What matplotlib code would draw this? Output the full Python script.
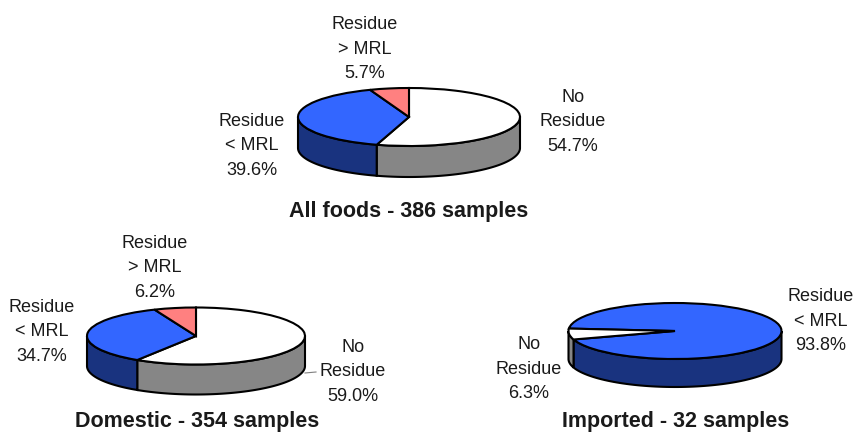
import numpy as np
import matplotlib
matplotlib.use('Agg')
import matplotlib.pyplot as plt

plt.rcParams['font.family'] = ['Liberation Sans', 'DejaVu Sans']

W, H = 855, 432

all_labels = ['No\nResidue\n54.7%', 'Residue\n< MRL\n39.6%', 'Residue\n> MRL\n5.7%']
all_values = [54.7, 39.6, 5.7]
dom_labels = ['No\nResidue\n59.0%', 'Residue\n< MRL\n34.7%', 'Residue\n> MRL\n6.2%']
dom_values = [59.0, 34.7, 6.2]
imp_labels = ['Residue\n< MRL\n93.8%', 'No\nResidue\n6.3%']
imp_values = [93.8, 6.3]

titles = ['All foods - 386 samples', 'Domestic - 354 samples', 'Imported - 32 samples']

white, grey = '#ffffff', '#868686'
blue, dkblue = '#3366ff', '#19337f'
pink, dkpink = '#ff8080', '#804040'

lw = 1.5

fig = plt.figure(figsize=(W / 100, H / 100), dpi=100)
bg = fig.add_axes([0, 0, 1, 1])
bg.set_xlim(0, W)
bg.set_ylim(H, 0)
bg.axis('off')


def pie3d(cx, cy, rx, ry, depth, values, colors, side_colors, start):
    # axes box in pixels, pie radius is 1 in both directions so it squashes to an ellipse
    pad = 4
    d = depth / ry
    ax = fig.add_axes([(cx - rx - pad) / W, (H - cy - ry - depth - pad) / H,
                       (2 * rx + 2 * pad) / W, (2 * ry + depth + 2 * pad) / H])
    ax.pie(values, colors=colors, startangle=start, counterclock=False, radius=1,
           wedgeprops={'edgecolor': 'black', 'linewidth': lw}, normalize=True)
    ax.set_aspect('auto')
    ax.set_xlim(-1 - pad / rx, 1 + pad / rx)
    ax.set_ylim(-1 - d - pad / ry, 1 + pad / ry)

    # side wall: only the front half of the rim shows
    edges = start - 360 * np.cumsum([0] + list(values)) / np.sum(values)
    for a0, a1, c in zip(edges[:-1], edges[1:], side_colors):
        for k in (0, -360):
            hi, lo = min(a0 + k, 0), max(a1 + k, -180)
            if hi <= lo:
                continue
            t = np.radians(np.linspace(lo, hi, 80))
            x = np.cos(t)
            y = np.sin(t)
            ax.fill(np.r_[x, x[::-1]], np.r_[y, y[::-1] - d], facecolor=c,
                    edgecolor='black', linewidth=lw, zorder=0)


pie3d(409, 117, 111, 29, 31, all_values, [white, blue, pink], [grey, dkblue, dkpink], 90)
pie3d(196, 336, 109, 28.5, 30, dom_values, [white, blue, pink], [grey, dkblue, dkpink], 90)
pie3d(675, 331, 106.5, 28, 28, imp_values, [blue, white], [dkblue, grey], 175)

fs = 13
ls = 1.55
tc = '#1a1a1a'
for txt, x, y in zip(all_labels, [573, 252, 365], [122, 146, 49]):
    bg.text(x, y, txt, ha='center', va='center', fontsize=fs, color=tc, linespacing=ls)
for txt, x, y in zip(dom_labels, [353, 42, 155], [372, 332, 268]):
    bg.text(x, y, txt, ha='center', va='center', fontsize=fs, color=tc, linespacing=ls)
for txt, x, y in zip(imp_labels, [821, 529], [321, 369]):
    bg.text(x, y, txt, ha='center', va='center', fontsize=fs, color=tc, linespacing=ls)

for txt, x, y in zip(titles, [409, 197, 676], [212, 422, 422]):
    bg.text(x, y, txt, ha='center', va='center', fontsize=15.5, fontweight='bold', color=tc)

# leader line to the Domestic "No Residue" label
bg.plot([305, 316], [373, 372], color='#808080', lw=0.8)

fig.savefig('out.png', dpi=100)
